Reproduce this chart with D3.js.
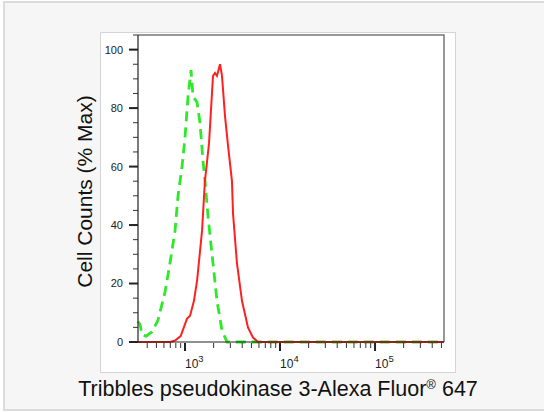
<!DOCTYPE html>
<html>
<head>
<meta charset="utf-8">
<script src="https://cdn.jsdelivr.net/npm/d3@7"></script>
<style>
  body { margin: 0; background: #fff; }
  svg { display: block; font-family: "Liberation Sans", Arial, sans-serif; }
</style>
</head>
<body>
<div id="chart"></div>
<script>
// fluorescence intensity (channel value) vs % of max
const redX = [320, 500, 700, 785, 900, 1050, 1130, 1240, 1340, 1510, 1620, 1790, 1970, 2070, 2170, 2335, 2450, 2640, 2840, 3120, 3200, 3520, 3980, 4600, 5200, 5870, 10000, 100000, 532000];
const redY = [0, 0, 0, 0.5, 2, 8, 9, 14, 21, 38, 55, 68, 91, 92, 91, 95, 91, 77, 67, 55, 44, 27, 14, 5, 1.5, 0, 0, 0, 0];

const greenX = [320, 336, 353, 390, 429, 450, 520, 615, 695, 785, 844, 886, 930, 1000, 1076, 1157, 1214, 1337, 1438, 1546, 1624, 1746, 1924, 2173, 2449, 2767, 5000, 532000];
const greenY = [7, 6, 2.4, 2, 3, 3.5, 7.5, 17, 27, 38, 50, 55, 60, 70, 84, 93, 84, 82, 75, 62, 55, 43, 30, 14, 4, 0, 0, 0];

const yTicks = [0, 20, 40, 60, 80, 100];
const xDecades = [3, 4, 5];

const W = 544, H = 412;
const plot = { left: 138, right: 444, top: 35, bottom: 342 };

const svg = d3.select("#chart").append("svg")
  .attr("width", W)
  .attr("height", H);

// page background and panel
svg.append("rect").attr("x", 0).attr("y", 0).attr("width", W).attr("height", H).attr("fill", "#fff");
svg.append("rect")
  .attr("x", 4).attr("y", 2).attr("width", W + 4).attr("height", 408)
  .attr("fill", "#f6f6f6").attr("stroke", "#dcdcdc").attr("stroke-width", 2);
svg.append("rect")
  .attr("x", 100.5).attr("y", 32.5).attr("width", 355).attr("height", 340)
  .attr("fill", "#fff").attr("stroke", "#d4d4d4").attr("stroke-width", 1);

const x = d3.scaleLog().domain([320, 532000]).range([plot.left, plot.right]);
const y = d3.scaleLinear().domain([0, 105]).range([plot.bottom, plot.top]);

// frame (top, right)
svg.append("path")
  .attr("d", `M${plot.left},${plot.top}H${plot.right}V${plot.bottom}`)
  .attr("fill", "none")
  .attr("stroke", "#777")
  .attr("stroke-width", 1.5);

// curves
const line = d3.line().x(d => x(d[0])).y(d => y(d[1]));

svg.append("path")
  .datum(greenX.map((v, i) => [v, greenY[i]]))
  .attr("fill", "none")
  .attr("stroke", "#2ee82a")
  .attr("stroke-width", 2.8)
  .attr("stroke-dasharray", "10,6")
  .attr("d", line);

svg.append("path")
  .datum(redX.map((v, i) => [v, redY[i]]))
  .attr("fill", "none")
  .attr("stroke", "#ff2020")
  .attr("stroke-width", 2)
  .attr("d", line);

// y axis
const yAxis = svg.append("g").attr("transform", `translate(${plot.left},0)`);
yAxis.append("line")
  .attr("y1", plot.top).attr("y2", plot.bottom)
  .attr("stroke", "#222").attr("stroke-width", 1.2);
yAxis.selectAll(".minor")
  .data(d3.range(0, 106, 5))
  .enter().append("line")
  .attr("x1", -5).attr("x2", 0)
  .attr("y1", d => y(d)).attr("y2", d => y(d))
  .attr("stroke", "#333").attr("stroke-width", 1);
yAxis.selectAll(".major")
  .data(yTicks)
  .enter().append("line")
  .attr("x1", -9).attr("x2", 0)
  .attr("y1", d => y(d)).attr("y2", d => y(d))
  .attr("stroke", "#222").attr("stroke-width", 2);
yAxis.selectAll("text")
  .data(yTicks)
  .enter().append("text")
  .attr("x", -15)
  .attr("y", d => y(d))
  .attr("dy", "0.36em")
  .style("text-anchor", "end")
  .style("font-size", "11px")
  .style("fill", "#222")
  .text(d => d);

// x axis
const xAxis = svg.append("g").attr("transform", `translate(0,${plot.bottom})`);
xAxis.append("line")
  .attr("x1", plot.left).attr("x2", plot.right)
  .attr("stroke", "#222").attr("stroke-width", 1.2);
const minorX = [];
[2, 3, 4, 5].forEach(e => {
  for (let m = 1; m <= 9; m++) {
    const v = m * Math.pow(10, e);
    if (m > 1 && v >= x.domain()[0] && v <= x.domain()[1]) minorX.push(v);
  }
});
xAxis.selectAll(".minor")
  .data(minorX)
  .enter().append("line")
  .attr("x1", d => x(d)).attr("x2", d => x(d))
  .attr("y1", 1).attr("y2", 6)
  .attr("stroke", "#333").attr("stroke-width", 1);
xAxis.selectAll(".major")
  .data(xDecades)
  .enter().append("line")
  .attr("x1", d => x(Math.pow(10, d))).attr("x2", d => x(Math.pow(10, d)))
  .attr("y1", 1).attr("y2", 9)
  .attr("stroke", "#222").attr("stroke-width", 2);
const xl = xAxis.selectAll(".lbl")
  .data(xDecades)
  .enter().append("text")
  .attr("x", d => x(Math.pow(10, d)))
  .attr("y", 26)
  .style("font-size", "12px")
  .style("fill", "#222");
xl.append("tspan").text("10");
xl.append("tspan").attr("dy", -6).style("font-size", "9.5px").text(d => d);

// axis titles
svg.append("text")
  .attr("transform", `translate(92,${(plot.top + plot.bottom) / 2 + 3}) rotate(-90)`)
  .style("text-anchor", "middle")
  .style("font-size", "21px")
  .style("fill", "#111")
  .text("Cell Counts (% Max)");

const xt = svg.append("text")
  .attr("x", 278)
  .attr("y", 396)
  .style("text-anchor", "middle")
  .style("font-size", "21.5px")
  .style("fill", "#111");
xt.append("tspan").text("Tribbles pseudokinase 3-Alexa Fluor");
xt.append("tspan").attr("dy", -7).style("font-size", "13px").text("®");
xt.append("tspan").attr("dy", 7).text(" 647");
</script>
</body>
</html>
